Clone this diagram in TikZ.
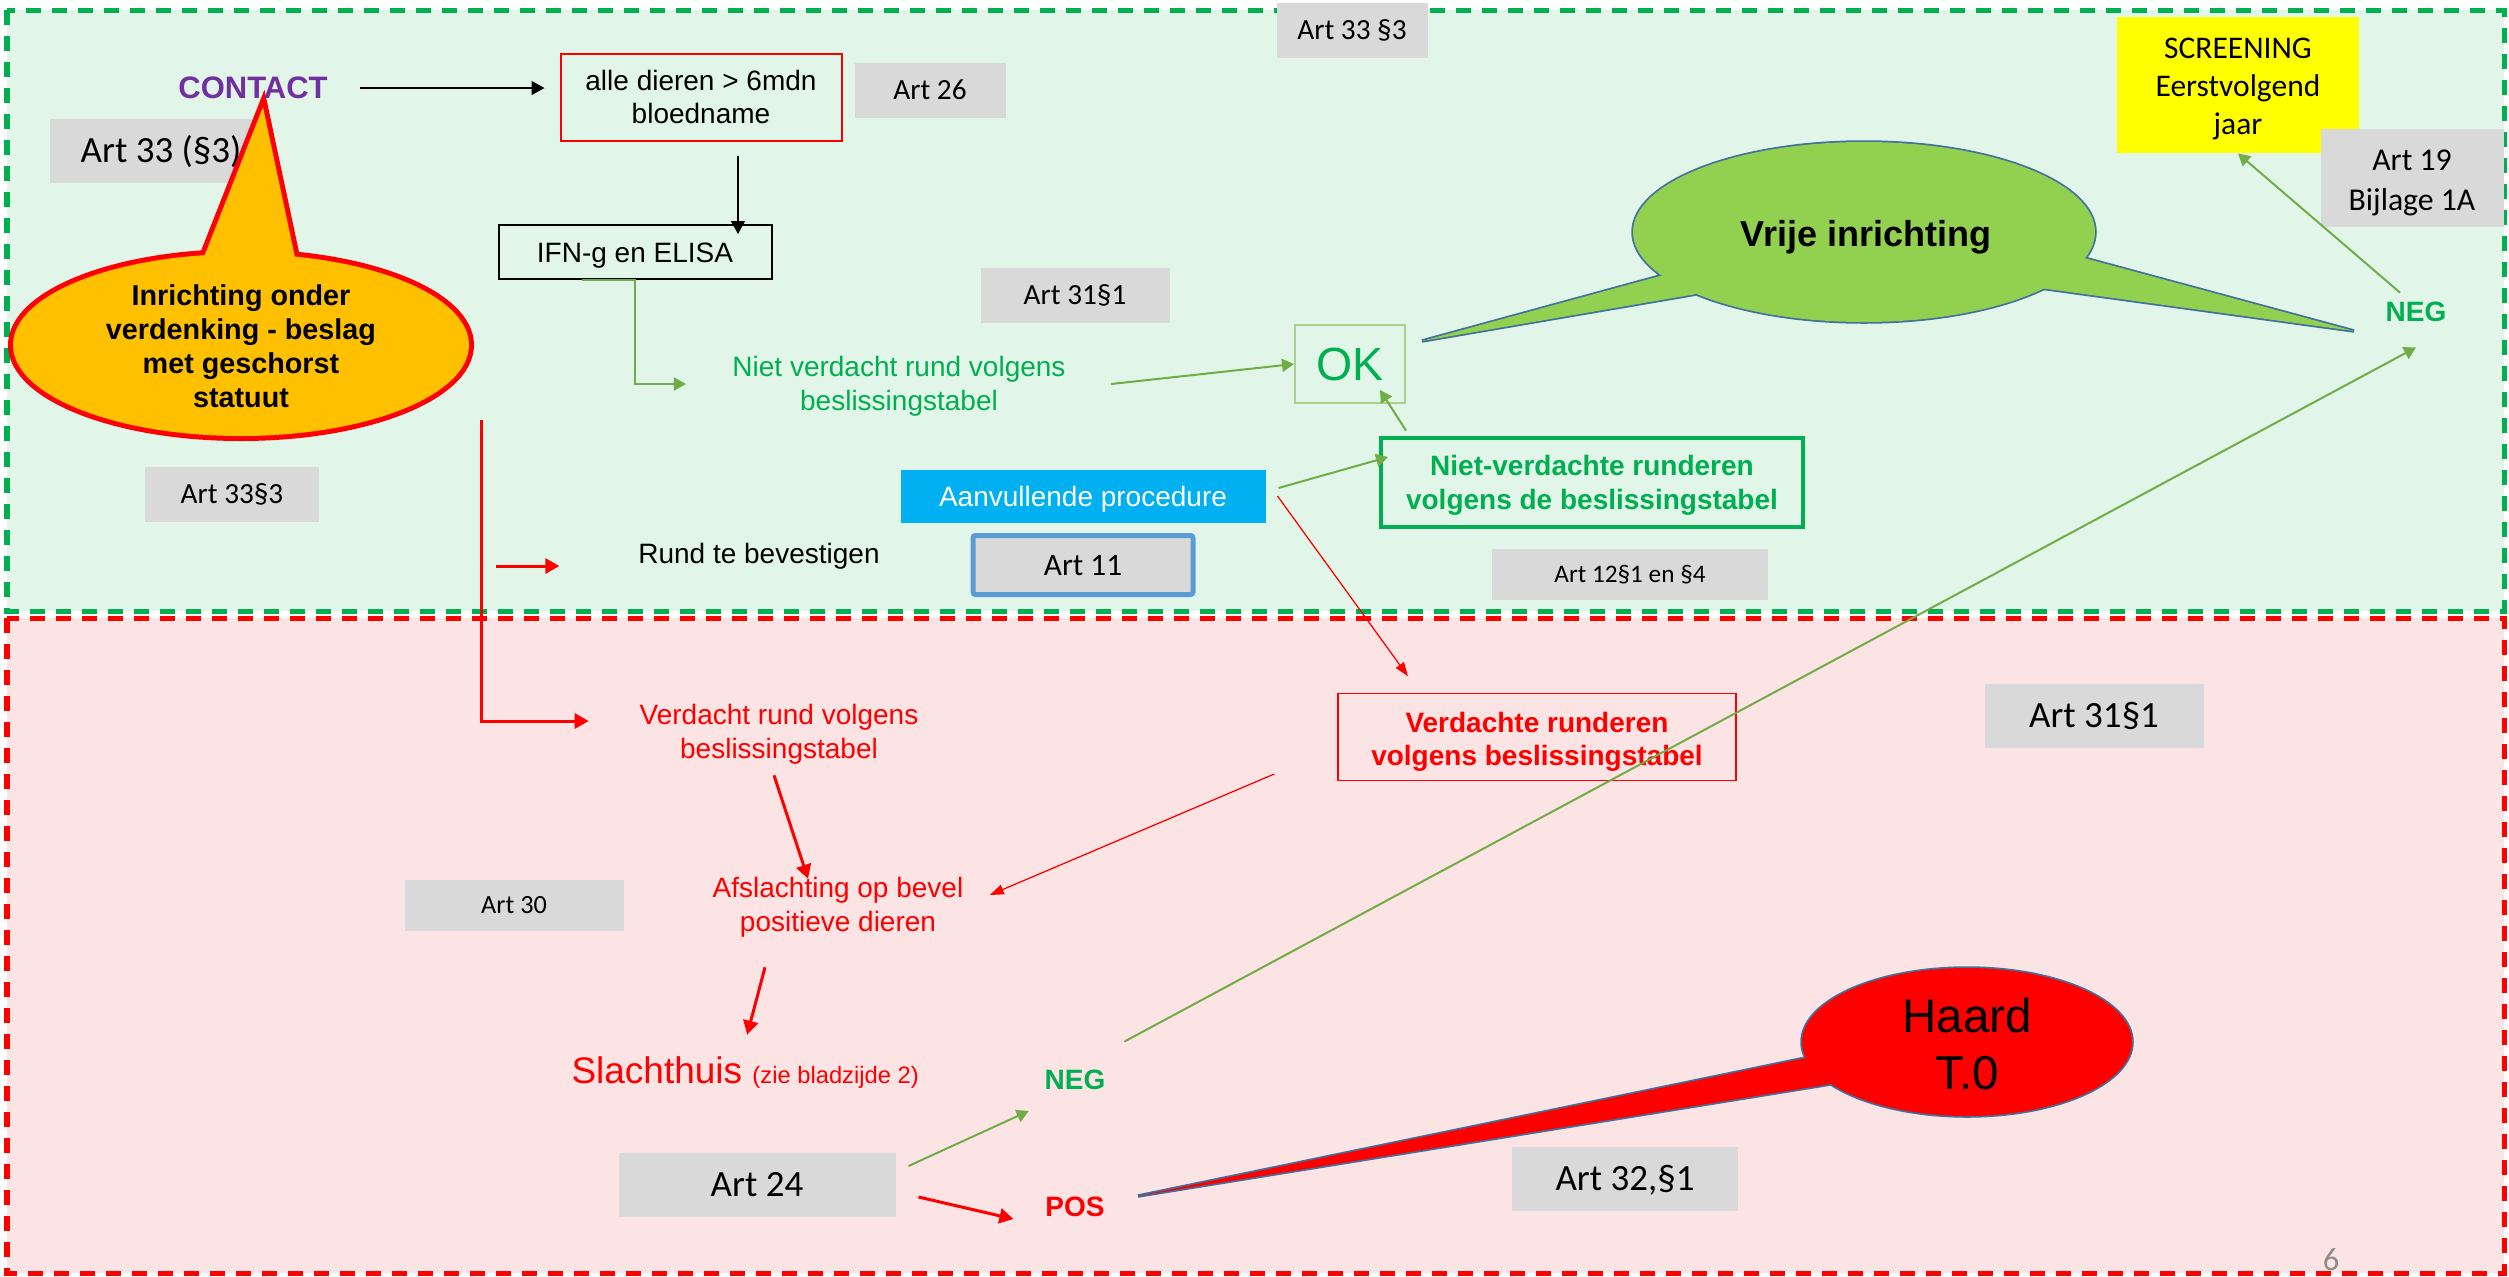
\documentclass[tikz,border=0pt]{standalone}
\usepackage{fontspec}
\setmainfont{Liberation Sans}
\newfontfamily\calfont{Carlito}
\usetikzlibrary{arrows.meta}
\definecolor{zonegreen}{HTML}{E2F5E9}
\definecolor{zonered}{HTML}{FDE4E4}
\definecolor{txtgreen}{HTML}{00B050}
\definecolor{lgreen}{HTML}{70AD47}
\definecolor{artgray}{HTML}{D9D9D9}
\definecolor{purp}{HTML}{7030A0}
\definecolor{orng}{HTML}{FFC000}
\definecolor{leaf}{HTML}{92D050}
\definecolor{edgeblue}{HTML}{41719C}
\definecolor{skyblue}{HTML}{00B0F0}
\definecolor{artblue}{HTML}{5B9BD5}
\definecolor{okgreen}{HTML}{A9D18E}
\definecolor{pagegray}{HTML}{8C8C8C}
\definecolor{pureyellow}{HTML}{FFFF00}
\newcommand\padtop[1]{\rule{0pt}{#1}}
\begin{document}
\begin{tikzpicture}[x=0.4pt,y=-0.4pt,
    txt/.style={inner sep=0pt,align=center,font={\fontsize{11.2pt}{13.4pt}\selectfont}},
    boldtxt/.style={inner sep=0pt,align=center,font={\fontsize{11.2pt}{13.4pt}\selectfont\bfseries}},
    artbox/.style={fill=artgray,inner sep=0pt,align=center,text height=7.5pt,text depth=0pt,font={\calfont\fontsize{11.7pt}{14pt}\selectfont}},
    bigart/.style={artbox,text height=9.5pt,font={\calfont\fontsize{14.8pt}{17.8pt}\selectfont}},
    blkarr/.style={draw=black,line width=0.6pt,-{Triangle[length=5.2pt,width=5.6pt]}},
    grnarr/.style={draw=lgreen,line width=0.8pt,-{Triangle[length=4.8pt,width=5.2pt]}},
    redarr/.style={draw=red,line width=1.2pt,-{Triangle[length=5.6pt,width=6pt]}},
    redthin/.style={draw=red,line width=0.5pt,-{Triangle[length=5.6pt,width=4pt]}},
    zone/.style={line width=2pt,dash pattern=on 6pt off 4.4pt}]
    \fill[white] (0,0) rectangle (2509,1276);
    \useasboundingbox (0,0) rectangle (2509,1276);
    \draw[zone,draw=txtgreen,fill=zonegreen] (7,10) rectangle (2504,611);
    \draw[zone,draw=red,fill=zonered] (7,618) rectangle (2504,1273);

    \foreach \nm/\x/\y/\w/\lbl in {art26/930/90/60.4/Art 26, art33top/1352/30/60.4/Art 33 §3, art31a/1075/295/75.6/Art 31§1, art33b/232/494/69.6/Art 33§3}
        \node[artbox,minimum width=\w pt,minimum height=22pt] (\nm) at (\x,\y) {\lbl};
    \foreach \nm/\x/\y/\w/\lbl in {art33a/161/151/88.4/Art 33 (§3), art31b/2094/716/87.6/Art 31§1, art24/757/1185/110.8/Art 24, art32/1625/1179/90.4/{Art 32,§1}}
        \node[bigart,minimum width=\w pt,minimum height=25.6pt] (\nm) at (\x,\y) {\lbl};
    \node[artbox,text height=6.8pt,font={\calfont\fontsize{10.5pt}{12pt}\selectfont},minimum width=87.6pt,minimum height=20.4pt] (art30) at (514,905) {Art 30};
    \node[artbox,text height=6.5pt,font={\calfont\fontsize{10.1pt}{12pt}\selectfont},minimum width=110.4pt,minimum height=20.4pt] (art12) at (1630,574) {Art 12§1 en §4};
    \node[artbox,text height=8pt,draw=artblue,line width=2pt,rounded corners=1pt,font={\calfont\fontsize{12.5pt}{15pt}\selectfont},minimum width=88pt,minimum height=23.6pt] (art11) at (1083,565) {Art 11};
    \node[fill=pureyellow,inner sep=0pt,align=center,font={\calfont\fontsize{12.6pt}{15.3pt}\selectfont},minimum width=96.8pt,minimum height=54.4pt] (screening) at (2238,85) {\padtop{11.3pt}SCREENING\\Eerstvolgend\\jaar};
    \node[fill=artgray,inner sep=0pt,align=center,font={\calfont\fontsize{12.7pt}{16pt}\selectfont},minimum width=73.2pt,minimum height=39.2pt] (art19) at (2412,178) {\padtop{12pt}Art 19\\Bijlage 1A};

    % callouts
    \draw[red,line width=4pt] (241,345) ellipse [x radius=91.2pt,y radius=36.4pt];
    \draw[red,line width=4pt] (202,262) -- (263,107) -- (296,262) -- cycle;
    \fill[orng] (241,345) ellipse [x radius=91.2pt,y radius=36.4pt];
    \fill[orng] (202,262) -- (263,107) -- (296,262) -- cycle;

    \draw[edgeblue,line width=1.4pt] (1864,232) ellipse [x radius=92.4pt,y radius=36pt];
    \draw[edgeblue,line width=1.4pt] (1671,273) -- (1422,341) -- (1708,292) -- cycle;
    \draw[edgeblue,line width=1.4pt] (2073,255) -- (2354,331) -- (2033,287) -- cycle;
    \fill[leaf] (1864,232) ellipse [x radius=92.4pt,y radius=36pt];
    \fill[leaf] (1671,273) -- (1422,341) -- (1708,292) -- cycle;
    \fill[leaf] (2073,255) -- (2354,331) -- (2033,287) -- cycle;

    \draw[edgeblue,line width=1.4pt] (1967,1042) ellipse [x radius=66pt,y radius=29.6pt];
    \draw[edgeblue,line width=1.4pt] (1820,1055) -- (1138,1196) -- (1843,1082) -- cycle;
    \fill[red] (1967,1042) ellipse [x radius=66pt,y radius=29.6pt];
    \fill[red] (1820,1055) -- (1138,1196) -- (1843,1082) -- cycle;

    \node[boldtxt,font={\fontsize{11.5pt}{13.6pt}\selectfont\bfseries}] (verdenking) at (241,346) {Inrichting onder\\verdenking - beslag\\met geschorst\\statuut};
    \node[inner sep=0pt,font={\fontsize{14.4pt}{17pt}\selectfont\bfseries}] (vrije) at (1866,237) {Vrije inrichting};
    \node[inner sep=0pt,align=center,font={\fontsize{19pt}{22.8pt}\selectfont}] (haard) at (1967,1044) {Haard\\T.0};

    % boxes and texts
    \node[boldtxt,text=purp,font={\fontsize{12.4pt}{15pt}\selectfont\bfseries}] (contact) at (253,88) {CONTACT};
    \node[txt,draw=red,line width=0.8pt,minimum width=112.4pt,minimum height=34.8pt] (alle) at (701,97) {alle dieren > 6mdn\\bloedname};
    \node[txt,draw=black,line width=0.8pt,text height=8pt,text depth=0pt,minimum width=109.2pt,minimum height=21.6pt] (ifn) at (635,252) {IFN-g en ELISA};
    \node[txt,text=txtgreen] (nietrund) at (899,386) {Niet verdacht rund volgens\\beslissingstabel};
    \node[draw=okgreen,line width=0.8pt,inner sep=0pt,minimum width=44pt,minimum height=31.2pt,text=txtgreen,font={\fontsize{18.6pt}{22pt}\selectfont}] (ok) at (1350,364) {OK};
    \node[boldtxt,draw=txtgreen,line width=1.6pt,text=txtgreen,minimum width=168.8pt,minimum height=35.6pt] (nvrund) at (1592,482) {\padtop{10.8pt}Niet-verdachte runderen\\volgens de beslissingstabel};
    \node[txt,fill=skyblue,text=white,text height=8pt,text depth=0pt,minimum width=146pt,minimum height=21.2pt] (aanv) at (1083,496) {Aanvullende procedure};
    \node[txt] (rundbev) at (759,556) {Rund te bevestigen};
    \node[boldtxt,draw=red,line width=0.6pt,text=red,minimum width=159.2pt,minimum height=34.8pt] (verdrund) at (1537,737) {\padtop{12pt}Verdachte runderen\\volgens beslissingstabel};
    \node[txt,text=red] (verdacht) at (779,734) {Verdacht rund volgens\\beslissingstabel};
    \node[txt,text=red] (afsl) at (838,907) {Afslachting op bevel\\positieve dieren};
    \node[anchor=base west,inner sep=0pt,text=red,font={\fontsize{14.8pt}{17pt}\selectfont}] (slacht) at (571,1083) {Slachthuis {\fontsize{9.5pt}{11pt}\selectfont(zie bladzijde 2)}};
    \node[boldtxt,text=txtgreen] (negb) at (1075,1080) {NEG};
    \node[boldtxt,text=red] (posb) at (1075,1207) {POS};
    \node[boldtxt,text=txtgreen] (negt) at (2416,312) {NEG};
    \node[inner sep=0pt,text=pagegray,font={\calfont\fontsize{13pt}{15pt}\selectfont}] (pagenr) at (2331,1260) {6};

    % connectors
    \draw[blkarr,shorten <=12.6pt,shorten >=6pt] (contact.east) -- (contact.east -| alle.west);
    \draw[blkarr,shorten <=5.6pt,shorten >=-4pt] ([xshift=14.8pt]alle.south) -- ([xshift=14.8pt]alle.south |- ifn.north);
    \draw[grnarr] ([xshift=-21.4pt]ifn.south) -- (ifn.south) |- ([xshift=-18.4pt,yshift=0.8pt]nietrund.west);
    \draw[grnarr] ([xshift=18pt,yshift=0.8pt]nietrund.east) -- (ok.west);
    \draw[grnarr] ([xshift=10.8pt,yshift=2pt]nvrund.north west) -- ([xshift=12pt,yshift=5.6pt]ok.south);
    \draw[grnarr] ([xshift=5pt,yshift=3.2pt]aanv.east) -- ([xshift=3.6pt,yshift=10pt]nvrund.west);
    \draw[redthin] ([xshift=4.6pt]aanv.east) -- ([xshift=-51.6pt,yshift=6.6pt]verdrund.north);
    \draw[redthin] ([xshift=-25.2pt,yshift=-14.8pt]verdrund.west) -- ([xshift=10.4pt,yshift=4.8pt]afsl.east);
    \coordinate (split) at (481,420);
    \draw[redarr] (split) |- ([xshift=-20.2pt,yshift=5.2pt]verdacht.west);
    \draw[redarr] ([xshift=-56.6pt,yshift=-4pt]rundbev.west) -- ([xshift=-31.4pt,yshift=-4pt]rundbev.west);
    \draw[redarr] ([xshift=-2pt,yshift=-4.4pt]verdacht.south) -- ([xshift=-12pt,yshift=-0.8pt]afsl.north);
    \draw[redarr] ([xshift=-29.2pt,yshift=-12pt]afsl.south) -- ([xshift=0.8pt,yshift=8.4pt]slacht.north);
    \draw[grnarr] ([xshift=5pt,yshift=7.6pt]art24.east) -- ([xshift=-6.2pt,yshift=-12.4pt]negb.west);
    \draw[redarr] ([xshift=9pt,yshift=-4.8pt]art24.east) -- ([xshift=-12.6pt,yshift=-4.8pt]posb.west);
    \draw[grnarr] ([xshift=7.4pt,yshift=11.2pt]negb.north east) -- ([yshift=-10pt]negt.south);
    \draw[grnarr] ([xshift=-6.4pt,yshift=3.6pt]negt.north) -- (screening.south);
\end{tikzpicture}
\end{document}
